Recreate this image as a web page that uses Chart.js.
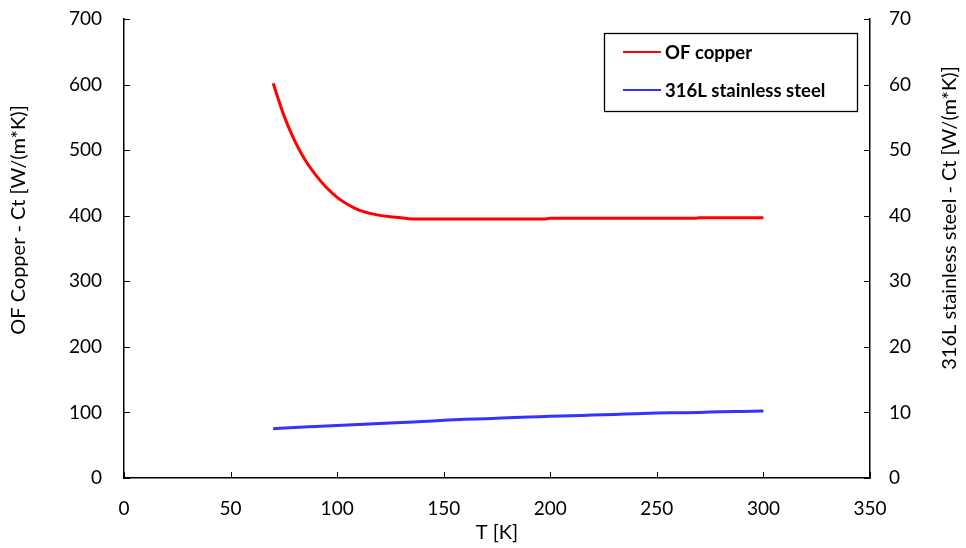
<!DOCTYPE html>
<html>
<head>
<meta charset="utf-8">
<script src="https://cdn.jsdelivr.net/npm/chart.js@4"></script>
<style>
  html, body { margin: 0; padding: 0; background: #fff; }
  #wrap { width: 966px; height: 548px; }
</style>
</head>
<body>
<div id="wrap"><canvas id="ctChart" width="966" height="548"></canvas></div>
<script>
// temperatures [K] and conductivity values
const copperT = [70, 75, 80, 85, 90, 95, 100, 105, 110, 115, 120, 125, 130, 135, 140, 150, 160, 170, 180, 190, 197, 200, 220, 240, 260, 268, 270, 285, 300];
const copperCt = [602, 553, 515, 485, 462, 443, 428, 417, 409, 404, 400.5, 398.5, 397, 395, 395, 395, 395, 395, 395, 395, 395, 396, 396, 396, 396, 396, 397, 397, 397];

const steelT = [70, 80, 90, 100, 110, 120, 130, 140, 150, 160, 170, 180, 190, 200, 210, 220, 230, 240, 250, 260, 270, 280, 290, 300];
const steelCt = [7.5, 7.7, 7.85, 8.0, 8.15, 8.3, 8.45, 8.6, 8.8, 8.95, 9.05, 9.2, 9.3, 9.4, 9.5, 9.6, 9.7, 9.8, 9.9, 9.95, 10.0, 10.1, 10.15, 10.2];

const seriesNames = ['OF copper', '316L stainless steel'];
const leftTitle = 'OF Copper - Ct [W/(m*K)]';
const rightTitle = '316L stainless steel - Ct [W/(m*K)]';
const xMax = 350, leftMax = 700, rightMax = 70;

const FONT = 'Lato, "Liberation Sans", sans-serif';

function pts(xs, ys) {
  return xs.map((x, i) => ({ x: x, y: ys[i] }));
}

function vTitle(c, text, x, y) {
  c.save();
  c.fillStyle = '#000';
  c.font = '20px ' + FONT;
  c.textAlign = 'center';
  c.textBaseline = 'middle';
  c.translate(x, y);
  c.rotate(-Math.PI / 2);
  c.fillText(text, 0, 0);
  c.restore();
}

// inward tick marks, y titles and boxed legend
const extras = {
  id: 'extras',
  afterDraw(chart) {
    const c = chart.ctx;
    const a = chart.chartArea;
    const sx = chart.scales.x, sl = chart.scales.yL, sr = chart.scales.yR;
    c.save();
    c.strokeStyle = '#000';
    c.lineWidth = 1;
    c.beginPath();
    sx.ticks.forEach(t => {
      const p = Math.round(sx.getPixelForValue(t.value)) + 0.5;
      c.moveTo(p, a.bottom); c.lineTo(p, a.bottom - 6);
    });
    sl.ticks.forEach(t => {
      const p = Math.round(sl.getPixelForValue(t.value)) + 0.5;
      c.moveTo(a.left, p); c.lineTo(a.left + 6, p);
    });
    sr.ticks.forEach(t => {
      const p = Math.round(sr.getPixelForValue(t.value)) + 0.5;
      c.moveTo(a.right, p); c.lineTo(a.right - 6, p);
    });
    c.stroke();
    c.restore();

    vTitle(c, leftTitle, 19, 220);
    vTitle(c, rightTitle, 950, 218);

    // legend box
    c.save();
    const bx = 604, by = 33, bw = 253, bh = 78;
    c.fillStyle = '#fff';
    c.fillRect(bx, by, bw, bh);
    c.strokeStyle = '#000';
    c.lineWidth = 1.3;
    c.strokeRect(bx + 0.5, by + 0.5, bw, bh);
    c.font = 'bold 18.5px ' + FONT;
    c.textAlign = 'left';
    c.textBaseline = 'middle';
    chart.data.datasets.forEach((ds, i) => {
      const y = by + 19 + i * 38;
      c.strokeStyle = ds.borderColor;
      c.lineWidth = 2;
      c.beginPath();
      c.moveTo(bx + 19, y); c.lineTo(bx + 57, y);
      c.stroke();
      c.fillStyle = '#000';
      c.fillText(ds.label, bx + 61, y + 1);
    });
    c.restore();
  }
};

new Chart(document.getElementById('ctChart'), {
  type: 'line',
  data: {
    datasets: [
      {
        label: seriesNames[0],
        data: pts(copperT, copperCt),
        borderColor: '#ff0000',
        borderWidth: 3,
        pointRadius: 0,
        cubicInterpolationMode: 'monotone',
        yAxisID: 'yL'
      },
      {
        label: seriesNames[1],
        data: pts(steelT, steelCt),
        borderColor: '#3333ff',
        borderWidth: 3,
        pointRadius: 0,
        cubicInterpolationMode: 'monotone',
        yAxisID: 'yR'
      }
    ]
  },
  options: {
    responsive: false,
    animation: false,
    layout: { padding: { top: 19, left: 0, right: 0, bottom: 0 } },
    plugins: {
      legend: { display: false },
      tooltip: { enabled: false }
    },
    scales: {
      x: {
        type: 'linear',
        min: 0,
        max: xMax,
        afterFit(s) { s.height = 70; },
        ticks: { stepSize: 50, color: '#000', font: { family: FONT, size: 19 }, padding: 19, maxRotation: 0 },
        grid: { display: false, drawTicks: false },
        border: { display: true, color: '#000', width: 1.5 },
        title: { display: true, text: 'T [K]', color: '#000', font: { family: FONT, size: 20 }, padding: { top: 0, bottom: 3 } }
      },
      yL: {
        type: 'linear',
        position: 'left',
        min: 0,
        max: leftMax,
        afterFit(s) { s.width = 124; s.paddingTop = 0; s.paddingBottom = 0; },
        ticks: { stepSize: 100, color: '#000', font: { family: FONT, size: 19 }, padding: 22 },
        grid: { display: false, drawTicks: false },
        border: { display: true, color: '#000', width: 1.5 },
        title: { display: false }
      },
      yR: {
        type: 'linear',
        position: 'right',
        min: 0,
        max: rightMax,
        afterFit(s) { s.width = 96; s.paddingTop = 0; s.paddingBottom = 0; },
        ticks: { stepSize: 10, color: '#000', font: { family: FONT, size: 19 }, padding: 19 },
        grid: { display: false, drawTicks: false },
        border: { display: true, color: '#000', width: 1.5 },
        title: { display: false }
      }
    }
  },
  plugins: [extras]
});
</script>
</body>
</html>
